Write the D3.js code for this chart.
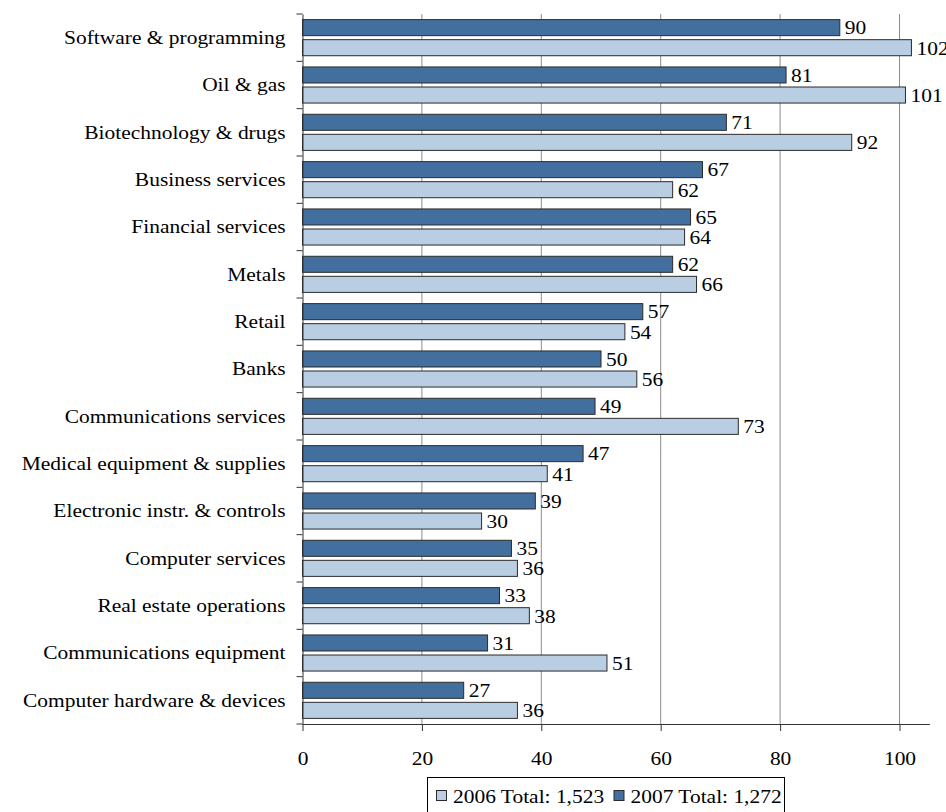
<!DOCTYPE html>
<html>
<head>
<meta charset="utf-8">
<script src="https://cdn.jsdelivr.net/npm/d3@7"></script>
<style>
  html, body { margin: 0; padding: 0; background: #fff; }
  svg { display: block; }
  text { font-family: "Liberation Serif", "Times New Roman", serif; fill: #000; }
</style>
</head>
<body>
<svg id="chart" width="946" height="812"></svg>
<script>
// Industry categories, top to bottom
const categories = [
  "Software & programming",
  "Oil & gas",
  "Biotechnology & drugs",
  "Business services",
  "Financial services",
  "Metals",
  "Retail",
  "Banks",
  "Communications services",
  "Medical equipment & supplies",
  "Electronic instr. & controls",
  "Computer services",
  "Real estate operations",
  "Communications equipment",
  "Computer hardware & devices"
];
const values2007 = [90, 81, 71, 67, 65, 62, 57, 50, 49, 47, 39, 35, 33, 31, 27];
const values2006 = [102, 101, 92, 62, 64, 66, 54, 56, 73, 41, 30, 36, 38, 51, 36];
const xTicks = [0, 20, 40, 60, 80, 100];
const seriesNames = ["2007", "2006"];
const legendLabels = ["2006 Total: 1,523", "2007 Total: 1,272"];

const colors = { "2007": "#436f9f", "2006": "#b9cde3" };
// slightly wide serif lettering: 19.5px glyphs stretched 10% horizontally
const FONT = 19.5;
const SX = 1.1;

const svg = d3.select("#chart");
const plotLeft = 302.5, plotTop = 14, plotBottom = 724;

const x = d3.scaleLinear().domain([0, 105]).range([plotLeft, plotLeft + 105 * 5.97]);
const y = d3.scaleBand().domain(categories).range([plotTop, plotBottom]);
const sub = d3.scaleBand().domain(seriesNames).range([0, y.bandwidth()])
  .paddingInner(0.2).paddingOuter(0.28);

// vertical gridlines
svg.append("g").selectAll("line")
  .data(xTicks.filter(t => t > 0))
  .join("line")
  .attr("x1", d => x(d)).attr("x2", d => x(d))
  .attr("y1", plotTop).attr("y2", plotBottom)
  .attr("stroke", "#8c8c8c").attr("stroke-width", 1);

// bars
const rows = categories.map((c, i) => ({ c, v: { "2007": values2007[i], "2006": values2006[i] } }));
const groups = svg.append("g").selectAll("g")
  .data(rows).join("g")
  .attr("transform", d => `translate(0,${y(d.c)})`);

groups.selectAll("rect")
  .data(d => seriesNames.map(s => ({ s, v: d.v[s] })))
  .join("rect")
  .attr("x", x(0))
  .attr("y", d => sub(d.s))
  .attr("width", d => x(d.v) - x(0))
  .attr("height", sub.bandwidth())
  .attr("fill", d => colors[d.s])
  .attr("stroke", "#2b2b2b").attr("stroke-width", 1);

groups.selectAll("text.val")
  .data(d => seriesNames.map(s => ({ s, v: d.v[s] })))
  .join("text")
  .attr("class", "val")
  .attr("transform", d => `translate(${x(d.v) + 5},${sub(d.s) + sub.bandwidth() / 2}) scale(${SX},1)`)
  .attr("dy", "0.35em")
  .attr("font-size", FONT)
  .text(d => d.v);

// left axis: labels at band centers, ticks at band boundaries
const yAxis = svg.append("g")
  .attr("transform", `translate(${plotLeft},0)`)
  .call(d3.axisLeft(y).tickSize(0).tickPadding(17 / SX));
yAxis.select(".domain").attr("stroke", "#333");
yAxis.selectAll("text")
  .attr("transform", `scale(${SX},1)`)
  .attr("font-size", FONT).attr("font-family", "Liberation Serif, serif").attr("fill", "#000");

const bounds = categories.map(c => y(c)).concat([plotBottom]);
svg.append("g").selectAll("line")
  .data(bounds).join("line")
  .attr("x1", plotLeft - 6).attr("x2", plotLeft)
  .attr("y1", d => d).attr("y2", d => d)
  .attr("stroke", "#333");

// bottom axis
const xAxis = svg.append("g")
  .attr("transform", `translate(0,${plotBottom})`)
  .call(d3.axisBottom(x).tickValues(xTicks).tickSize(7).tickPadding(20).tickSizeOuter(0));
xAxis.select(".domain").attr("stroke", "#333");
xAxis.selectAll(".tick line").attr("stroke", "#333");
xAxis.selectAll("text")
  .attr("transform", `scale(${SX},1)`)
  .attr("font-size", FONT).attr("font-family", "Liberation Serif, serif").attr("fill", "#000");

// legend
const legend = svg.append("g");
legend.append("rect")
  .attr("x", 427.5).attr("y", 777.5).attr("width", 357).attr("height", 40)
  .attr("fill", "#fff").attr("stroke", "#000").attr("stroke-width", 1);
const legendItems = [
  { key: "2006", label: legendLabels[0], x: 436 },
  { key: "2007", label: legendLabels[1], x: 613.5 }
];
const li = legend.selectAll("g.item").data(legendItems).join("g").attr("class", "item");
li.append("rect")
  .attr("x", d => d.x + 0.5).attr("y", 790.5).attr("width", 10).attr("height", 10)
  .attr("fill", d => colors[d.key]).attr("stroke", "#2b2b2b");
li.append("text")
  .attr("transform", d => `translate(${d.x + 17},796) scale(${SX},1)`)
  .attr("dy", "0.35em")
  .attr("font-size", FONT)
  .text(d => d.label);
</script>
</body>
</html>
